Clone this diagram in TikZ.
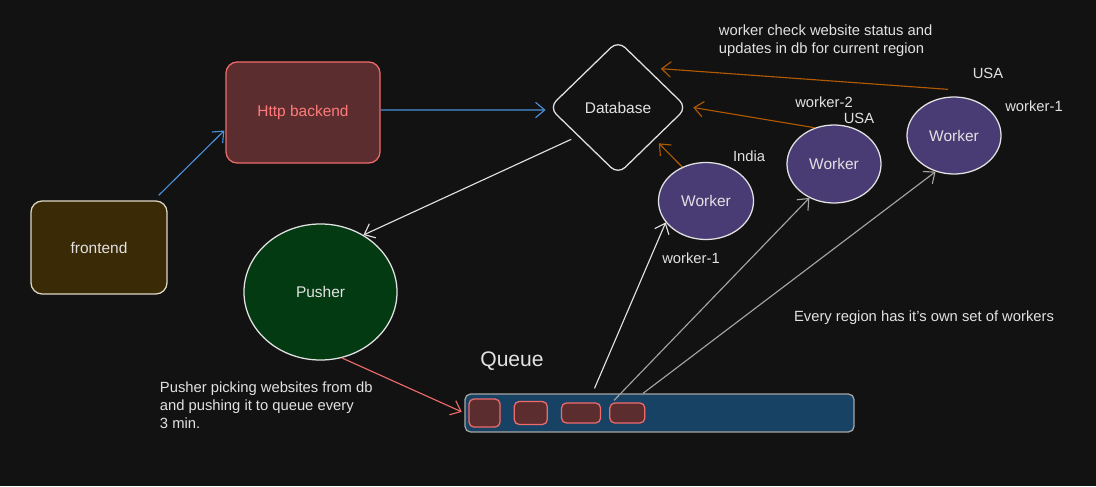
\documentclass[tikz,border=0pt]{standalone}
\usepackage{fontspec}
\setmainfont{Liberation Sans}
\usepackage{tikz}
\usetikzlibrary{
  arrows.meta,
  positioning,
  shapes.geometric,
}
\definecolor{bgdark}{RGB}{18, 18, 18}
\definecolor{inkwhite}{RGB}{226, 226, 226}
\definecolor{inkgray}{RGB}{165, 165, 165}
\definecolor{frontfill}{RGB}{58, 42, 6}
\definecolor{frontline}{RGB}{222, 216, 198}
\definecolor{httpfill}{RGB}{92, 45, 46}
\definecolor{httpline}{RGB}{240, 106, 106}
\definecolor{httptext}{RGB}{255, 122, 122}
\definecolor{pushfill}{RGB}{4, 58, 18}
\definecolor{workfill}{RGB}{73, 59, 116}
\definecolor{queuefill}{RGB}{23, 66, 99}
\definecolor{blueline}{RGB}{74, 145, 220}
\definecolor{orangeline}{RGB}{178, 90, 0}
\tikzstyle{box} = [
  rectangle,
  draw,
  rounded corners=8pt,
  line width=0.9pt,
  text=inkwhite,
  font=\fontsize{11}{13}\selectfont,
]
\tikzstyle{blob} = [
  ellipse,
  draw=inkwhite,
  inner sep=0pt,
  line width=0.9pt,
  text=inkwhite,
  font=\fontsize{11}{13}\selectfont,
]
\tikzstyle{job} = [
  rectangle,
  draw=httpline,
  fill=httpfill,
  rounded corners=3.5pt,
  line width=0.9pt,
]
\tikzstyle{note} = [
  text=inkwhite,
  font=\fontsize{10.5}{12.8}\selectfont,
]
\tikzstyle{arrow} = [
  -{Straight Barb[length=6.5pt,width=11pt]},
  line width=0.8pt,
]

\begin{document}
\begin{tikzpicture}[x=0.025cm,y=-0.025cm,node distance=0mm and 0mm]

        \fill[bgdark] (0,0) rectangle (1096,486);

        \node[box,draw=frontline,fill=frontfill,minimum width=3.4cm,minimum height=2.325cm] (frontend) at (99,247.5) {frontend};
        \node[box,draw=httpline,fill=httpfill,text=httptext,minimum width=3.85cm,minimum height=2.525cm] (backend) at (303,112.5) {Http backend};
        \node[diamond,draw=inkwhite,line width=0.9pt,inner sep=0pt,rounded corners=7pt,minimum width=3.45cm,minimum height=3.35cm,text=inkwhite,font=\fontsize{11}{13}\selectfont] (db) at (618,107.5) {Database};
        \node[blob,fill=pushfill,minimum width=3.825cm,minimum height=3.4cm] (pusher) at (320.5,292) {Pusher};

        \node[blob,fill=workfill,minimum width=2.375cm,minimum height=1.925cm] (worker1) at (706,201) {Worker};
        \node[blob,fill=workfill,minimum width=2.35cm,minimum height=1.95cm] (worker2) at (834,164) {Worker};
        \node[blob,fill=workfill,minimum width=2.35cm,minimum height=1.925cm] (worker3) at (954,135.5) {Worker};

        \node[box,draw=inkgray,fill=queuefill,rounded corners=4pt,minimum width=9.725cm,minimum height=0.95cm] (queue) at (659.5,413) {};
        \node[job,minimum width=0.775cm,minimum height=0.7cm] (job1) at (484.5,413) {};
        \node[job,minimum width=0.825cm,minimum height=0.575cm,right=0.325cm of job1] (job2) {};
        \node[job,minimum width=0.975cm,minimum height=0.5cm,right=0.325cm of job2] (job3) {};
        \node[job,minimum width=0.875cm,minimum height=0.5cm,right=0.2cm of job3] (job4) {};

        \node[note,font=\fontsize{15}{18}\selectfont] (qname) at (512,361) {Queue};
        \node[note,anchor=west,align=left] (pushnote) at (155,405) {Pusher picking websites from db\\and pushing it to queue every\\3 min.};
        \node[note,anchor=west,align=left] (dbnote) at (714,41) {worker check website status and\\updates in db for current region};
        \node[note] (usa3) at (988,73) {USA};
        \node[note] (w3name) at (1034,106) {worker-1};
        \node[note] (w2name) at (824,102) {worker-2};
        \node[note] (usa2) at (859,118) {USA};
        \node[note] (india) at (749,156) {India};
        \node[note] (w1name) at (691,258) {worker-1};
        \node[note] (regions) at (924,318) {Every region has it's own set of workers};

        \draw[arrow,blueline] ([shift={(-9,-5)}]frontend.north east) -- ([shift={(-1,18)}]backend.west);
        \draw[arrow,blueline,shorten >=2pt] ([shift={(0,-2.5)}]backend.east) -- ([shift={(0,2.5)}]db.west);
        \draw[arrow,inkwhite] ([shift={(-12,-2)}]db.south west) -- (pusher.53);
        \draw[arrow,httpline,shorten >=2pt] (pusher.-72) -- (queue.west);

        \draw[arrow,inkwhite] ([shift={(-65,-5)}]queue.north) -- (worker1.208);
        \draw[arrow,inkgray] ([shift={(-45.5,7)}]queue.north) -- (worker2.234);
        \draw[arrow,inkgray] ([shift={(-16.5,0)}]queue.north) -- (worker3.243);

        \draw[arrow,orangeline] (worker1.125) -- ([shift={(6,2)}]db.south east);
        \draw[arrow,orangeline] (worker2.118) -- ([xshift=4]db.east);
        \draw[arrow,orangeline] ([shift={(-6,-7)}]worker3.north) -- ([shift={(8,-5)}]db.north east);

\end{tikzpicture}
\end{document}
